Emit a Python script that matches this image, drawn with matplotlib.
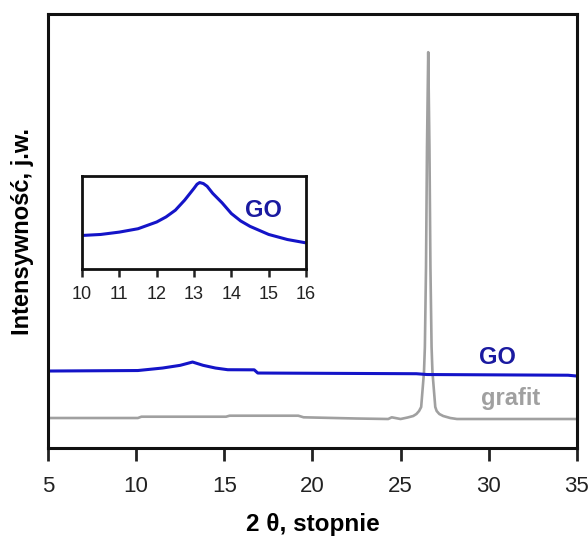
import numpy as np
import matplotlib.pyplot as plt

plt.rcParams['font.family'] = ['Liberation Sans', 'DejaVu Sans']

# main pattern: GO (blue) and graphite (grey), intensity in arbitrary units
go_x = [5, 10.1, 11.5, 12.5, 13.2, 13.8, 14.5, 15.2, 16.7, 16.9, 25.9, 26.5, 34.5, 35]
go_y = [77, 77.5, 80, 82.7, 86, 82.7, 80, 78.3, 78.2, 75, 74.3, 73.5, 72.8, 72]

grafit_x = [5, 10.1, 10.3, 15.1, 15.3, 19.2, 19.5, 22.5, 24.3, 24.5, 25.0, 25.4, 25.72,
            25.9, 26.05, 26.17, 26.33, 26.38, 26.445, 26.50, 26.57, 26.64, 26.695,
            26.76, 26.81, 26.97, 27.05, 27.2, 27.42, 27.82, 28.2, 35]
grafit_y = [30, 30, 31.3, 31.3, 32.3, 32.3, 30.7, 29.5, 29, 30.7, 29, 30.5, 32,
            34, 37, 41, 76, 101, 181, 300, 396, 300, 181,
            101, 76, 41, 37, 34, 32, 30, 29, 29]

# inset: GO peak around 13 deg
inset_x = [10, 10.5, 11, 11.5, 12, 12.25, 12.5, 12.75, 13.0, 13.08, 13.15, 13.25,
           13.35, 13.5, 13.75, 14, 14.25, 14.5, 15, 15.5, 16]
inset_y = [100, 103, 110, 120, 140, 155, 175, 205, 240, 252, 257, 254,
           246, 225, 197, 165, 143, 127, 103, 88, 78]

main_ticks = [5, 10, 15, 20, 25, 30, 35]
inset_ticks = [10, 11, 12, 13, 14, 15, 16]

blue = '#1414c8'
dark_blue = '#1a1aa0'
grey = '#a0a0a0'

fig = plt.figure(figsize=(5.88, 5.46), dpi=100)
ax = fig.add_axes([0.0816, 0.1795, 0.8994, 0.7945])
ax.plot(grafit_x, grafit_y, color=grey, lw=1.9, solid_joinstyle='round')
ax.plot(go_x, go_y, color=blue, lw=2.2)
ax.set_xlim(5, 35)
ax.set_ylim(0, 434)
ax.set_xticks(main_ticks)
ax.set_yticks([])
ax.tick_params(axis='x', direction='out', length=9, width=2, pad=11, labelsize=16,
               colors='#222222')
for s in ax.spines.values():
    s.set_linewidth(2.2)
    s.set_color('#111111')
ax.set_xlabel('2 θ, stopnie', fontsize=17.5, fontweight='bold', labelpad=12)
ax.set_ylabel('Intensywność, j.w.', fontsize=17, fontweight='bold', labelpad=10)
ax.text(30.5, 91, 'GO', color=dark_blue, fontsize=17, fontweight='bold',
        ha='center', va='center')
ax.text(31.25, 50, 'grafit', color=grey, fontsize=17, fontweight='bold',
        ha='center', va='center')

# inset with the GO peak
ins = fig.add_axes([0.1395, 0.507, 0.381, 0.171])
ins.plot(inset_x, inset_y, color=blue, lw=2.2)
ins.set_xlim(10, 16)
ins.set_ylim(0, 277)
ins.set_xticks(inset_ticks)
ins.set_yticks([])
ins.tick_params(axis='x', direction='out', length=6, width=1.8, pad=6, labelsize=13,
                colors='#222222')
for s in ins.spines.values():
    s.set_linewidth(2)
    s.set_color('#111111')
ins.text(14.85, 175, 'GO', color=dark_blue, fontsize=17, fontweight='bold',
         ha='center', va='center')

fig.savefig('out.png', dpi=100)
